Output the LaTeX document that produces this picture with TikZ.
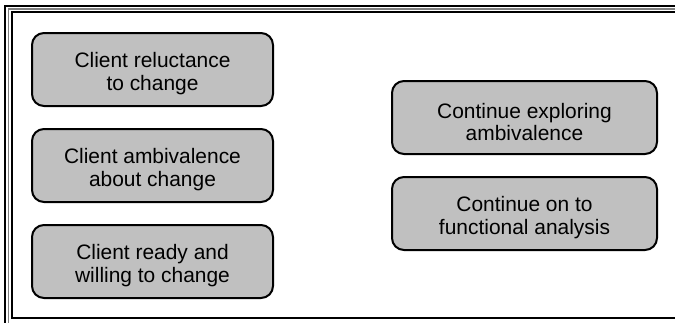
\documentclass[tikz,border=0pt]{standalone}
\usepackage{fontspec}
\setmainfont{Liberation Sans}
\definecolor{boxgray}{RGB}{192,192,192}
\definecolor{bandgray}{RGB}{128,128,128}
\tikzset{
  stagebox/.style={draw=black, line width=1.5pt, fill=boxgray, rounded corners=9pt,
    minimum height=54.75pt, inner sep=0pt},
  stagetext/.style={align=center, inner sep=0pt,
    font=\fontsize{15.7}{17}\selectfont},
}
\begin{document}
\begin{tikzpicture}[x=0.75pt, y=-0.75pt]
    \clip (0,0) rectangle (675,322);

    % page frame
    \draw[line width=1.5pt] (5,330) -- (5,6) -- (690,6);
    \draw[line width=1pt, bandgray] (8.6,330) -- (8.6,9.1) -- (690,9.1);
    \draw[line width=1.5pt] (690,318) -- (12,318) -- (12,12) -- (690,12);

    % client states
    \node[stagebox, minimum width=180.75pt] (reluct) at (152.5, 69.5) {};
    \node[stagebox, minimum width=180.75pt] (ambiv) at (152.5, 165.5) {};
    \node[stagebox, minimum width=180.75pt] (ready) at (152.5, 261.5) {};
    \node[stagetext] (reluct-t) at ([yshift=-3.3pt]reluct.center) {Client reluctance\\to change};
    \node[stagetext] (ambiv-t) at ([yshift=-3.3pt]ambiv.center) {Client ambivalence\\about change};
    \node[stagetext] (ready-t) at ([yshift=-3.3pt]ready.center) {Client ready and\\willing to change};

    % next steps
    \node[stagebox, minimum width=198.75pt] (explore) at (524.5, 117.5) {};
    \node[stagebox, minimum width=198.75pt] (funct) at (524.5, 213.5) {};
    \node[stagetext] (explore-t) at ([yshift=-3.3pt]explore.center) {Continue exploring\\ambivalence};
    \node[stagetext] (funct-t) at ([yshift=-3.3pt]funct.center) {Continue on to\\functional analysis};
\end{tikzpicture}
\end{document}
